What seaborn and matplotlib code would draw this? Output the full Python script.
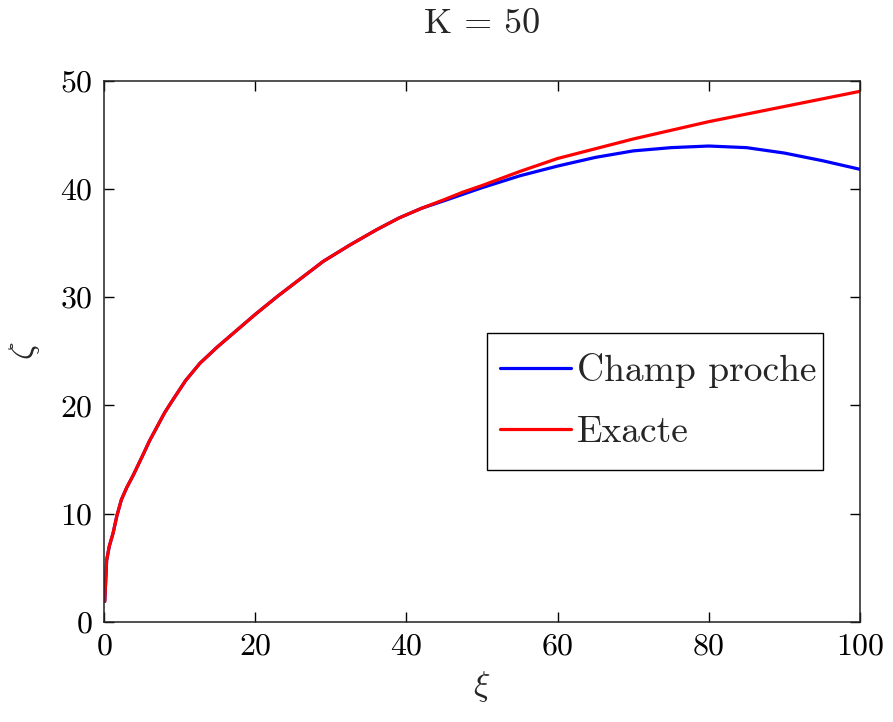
import matplotlib
matplotlib.use("Agg")
import matplotlib.pyplot as plt
from matplotlib.patches import Rectangle
import seaborn as sns
import pandas as pd

# Data
xi = [0.1, 0.35, 0.7, 1.2, 1.7, 2.3, 3, 3.9, 5.2, 6, 7, 8, 9, 10.8, 12.7, 15, 17, 20,
      23, 26, 29, 32.5, 36, 39, 42, 45, 47.5,
      50, 55, 60, 65, 70, 75, 80, 85, 90, 95, 100]
exacte = [1.9, 5.7, 7.0, 8.2, 9.8, 11.3, 12.4, 13.6, 15.5, 16.7, 18.0, 19.3, 20.4, 22.3, 23.9, 25.4, 26.6, 28.4,
          30.1, 31.7, 33.3, 34.8, 36.2, 37.3, 38.2, 39.0, 39.7,
          40.3, 41.6, 42.8, 43.7, 44.6, 45.4, 46.2, 46.9, 47.6, 48.3, 49.0]
champ_proche = [1.9, 5.7, 7.0, 8.2, 9.8, 11.3, 12.4, 13.6, 15.5, 16.7, 18.0, 19.3, 20.4, 22.3, 23.9, 25.4, 26.6, 28.4,
                30.1, 31.7, 33.3, 34.8, 36.2, 37.3, 38.2, 38.9, 39.5,
                40.1, 41.2, 42.1, 42.9, 43.5, 43.8, 43.95, 43.8, 43.3, 42.6, 41.8]
series_names = ["Champ proche", "Exacte"]
x_ticks = [0, 20, 40, 60, 80, 100]
y_ticks = [0, 10, 20, 30, 40, 50]

df = pd.concat([
    pd.DataFrame({"xi": xi, "zeta": champ_proche, "serie": series_names[0]}),
    pd.DataFrame({"xi": xi, "zeta": exacte, "serie": series_names[1]}),
])

sns.set_style("ticks")
plt.rcParams["font.family"] = "serif"
plt.rcParams["font.serif"] = ["cmr10", "DejaVu Serif"]
plt.rcParams["mathtext.fontset"] = "cm"
plt.rcParams["axes.formatter.use_mathtext"] = True

fig = plt.figure(figsize=(8.93, 7.22), dpi=100)
ax = fig.add_axes([104/893, 1-622/722, (860-104)/893, (622-80.5)/722])

sns.lineplot(data=df, x="xi", y="zeta", hue="serie", palette=["#0000ff", "#ff0000"],
             linewidth=2.3, ax=ax, sort=False, estimator=None)

ax.set_xlim(0, 100)
ax.set_ylim(0, 50)
ax.set_xticks(x_ticks)
ax.set_yticks(y_ticks)
ax.tick_params(direction="in", top=True, right=True, length=7, width=1,
               labelsize=23, pad=8, colors="black")
for s in ax.spines.values():
    s.set_linewidth(1.1)
    s.set_color("#222222")

ax.set_xlabel(r"$\xi$", fontsize=25, labelpad=6)
ax.set_ylabel(r"$\zeta$", fontsize=25, labelpad=13)
ax.set_title("K = 50", fontsize=26, pad=34)

leg = ax.legend(loc="center left", bbox_to_anchor=(0.524, 0.408), fontsize=27,
                frameon=False, handlelength=1.9, handletextpad=0.15,
                labelspacing=0.75, borderpad=0, borderaxespad=0)
ax.add_patch(Rectangle((0.5066, 0.2807), 0.4444, 0.253, transform=ax.transAxes,
                       facecolor="white", edgecolor="black", linewidth=1.0, zorder=4))
leg.set_zorder(5)

fig.savefig("out.png", dpi=100)
